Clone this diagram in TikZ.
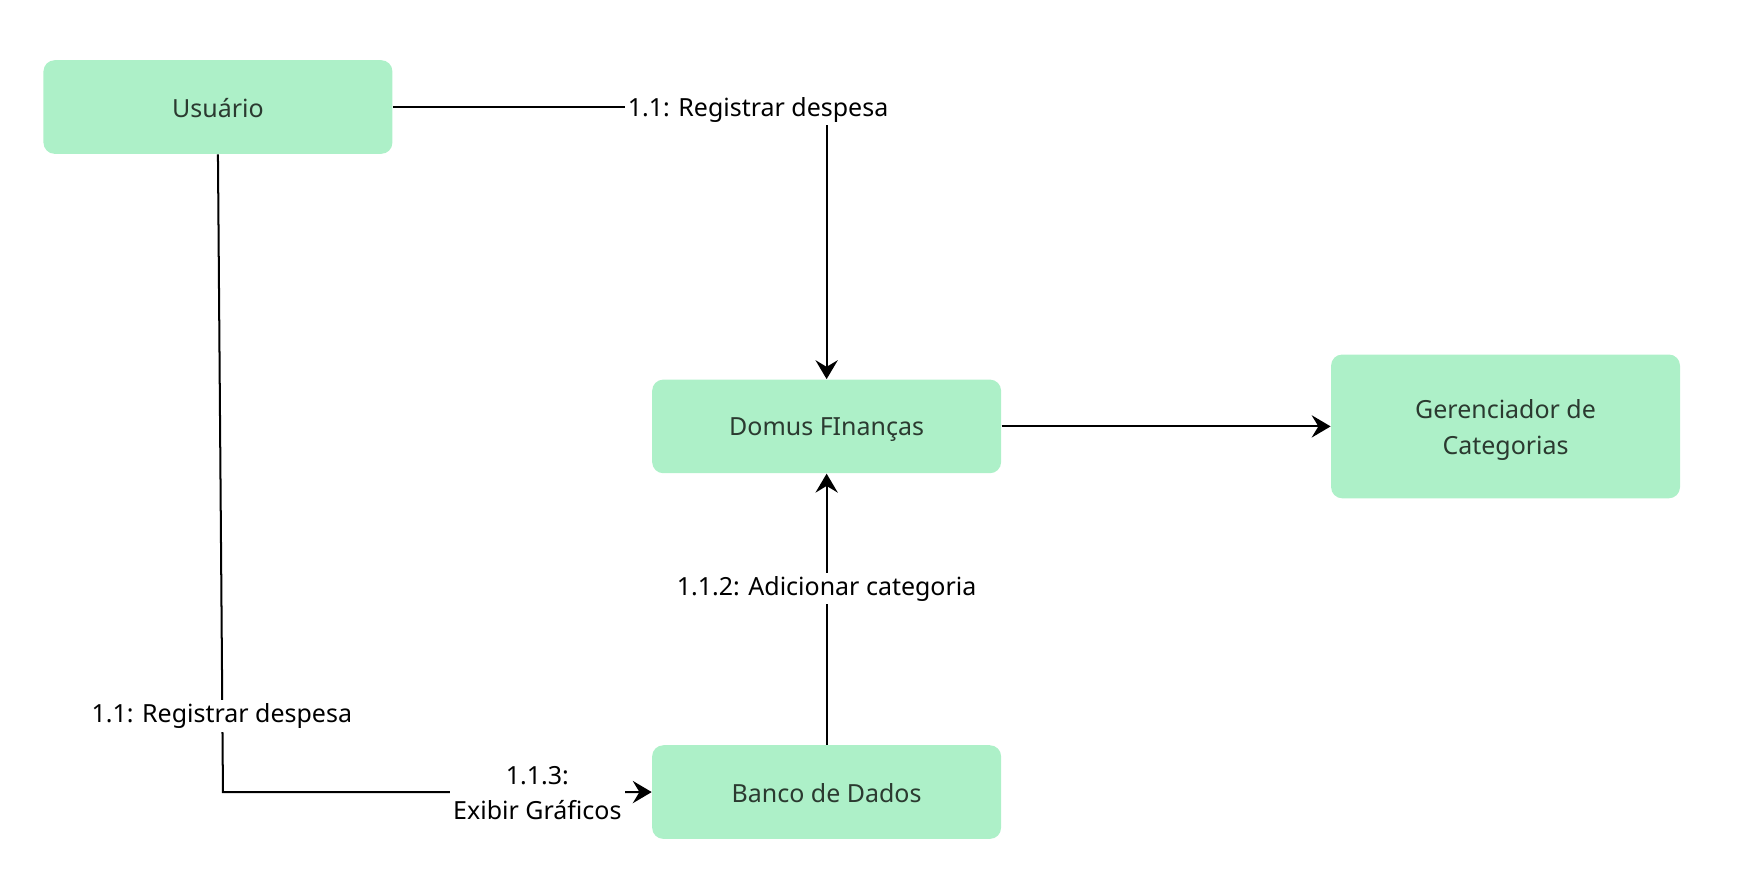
\documentclass[tikz,border=0pt]{standalone}
\usepackage{fontspec}
\setmainfont{Noto Sans}
\usetikzlibrary{arrows.meta}
\definecolor{boxfill}{HTML}{ADF0C8}
\definecolor{boxtext}{HTML}{2B3A30}
\newcommand\lowr[2]{\raisebox{-#1}[\height][\depth]{#2}}
\tikzset{
  px/.style={x=0.5pt,y=-0.5pt},
  box/.style={draw=none,fill=boxfill,rounded corners=5pt,minimum width=156.5pt,minimum height=42pt,
    text=boxtext,font=\fontsize{11.2}{16}\selectfont,align=center,inner sep=0pt},
  conn/.style={draw=black,line width=0.9pt},
  arr/.style={conn,-{Stealth[length=8.5pt,width=10pt,inset=3pt]}},
  lbl/.style={fill=white,text=black,font=\fontsize{11.2}{15.5}\selectfont,align=center,inner sep=1.5pt}
}
\begin{document}
\begin{tikzpicture}[px]
\useasboundingbox (0,0) rectangle (1568,801);
\node[box] (u) at (195.5,96) {\lowr{0.6pt}{Usuário}};
\node[box] (d) at (741.5,382.5) {\lowr{1.3pt}{Domus FInanças}};
\node[box,minimum height=64.5pt] (g) at (1350.5,382.5) {\lowr{1.6pt}{Gerenciador de}\\\lowr{1.6pt}{Categorias}};
\node[box] (b) at (741.5,710.5) {\lowr{0.6pt}{Banco de Dados}};
\coordinate (c) at (200,710.5);
\draw[arr] (u.east) -| (d.north);
\draw[arr] (d.east) -- (g.west);
\draw[arr] (b.north) -- (d.south);
\draw[arr] (u.south) -- (c) -- (b.west);
\node[lbl] (l1) at (680,98) {\lowr{0.5pt}{1.1: Registrar despesa}};
\node[lbl] (l2) at (741.5,528) {1.1.2: Adicionar categoria};
\node[lbl] (l3) at (199,642) {1.1: Registrar despesa};
\node[lbl] (l4) at (482,711.5) {1.1.3:\\Exibir Gráficos};
\end{tikzpicture}
\end{document}
